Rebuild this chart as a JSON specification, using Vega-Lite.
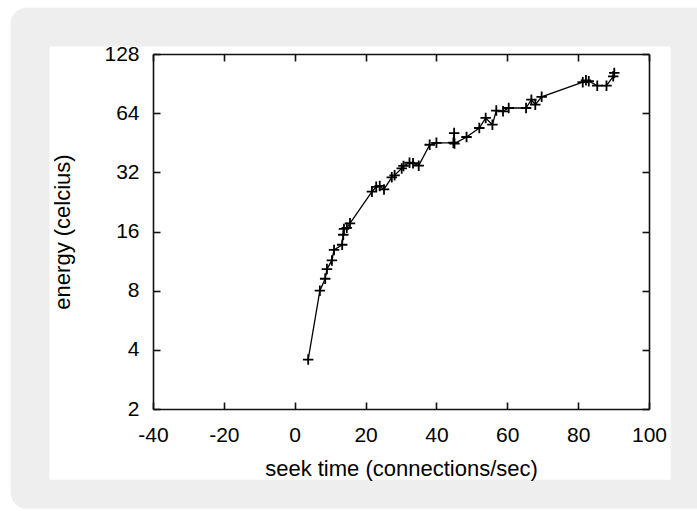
{
  "$schema": "https://vega.github.io/schema/vega-lite/v6.json",
  "width": 496,
  "height": 355,
  "autosize": {"type": "none"},
  "padding": {"left": 153, "top": 54, "right": 48, "bottom": 102},
  "background": "white",
  "config": {
    "view": {"stroke": null},
    "axis": {
      "grid": false,
      "domainColor": "#111111",
      "domainWidth": 1.6,
      "tickColor": "#111111",
      "tickWidth": 1.6,
      "tickSize": -7,
      "labelFont": "Liberation Sans",
      "labelFontSize": 21,
      "labelColor": "#000000",
      "labelFlush": false,
      "labelOverlap": false,
      "titleFont": "Liberation Sans",
      "titleFontSize": 22,
      "titleFontWeight": "normal",
      "titleColor": "#000000"
    }
  },
  "data": {
    "values": [
      {"seek": 3.8, "energy": 3.57},
      {"seek": 7.1, "energy": 8.0},
      {"seek": 8.6, "energy": 9.2},
      {"seek": 9.1, "energy": 10.3},
      {"seek": 10.5, "energy": 11.4},
      {"seek": 11.1, "energy": 12.9},
      {"seek": 13.4, "energy": 13.7},
      {"seek": 13.7, "energy": 15.4},
      {"seek": 13.9, "energy": 16.5},
      {"seek": 14.7, "energy": 16.7},
      {"seek": 15.6, "energy": 17.6},
      {"seek": 21.8, "energy": 25.5},
      {"seek": 23.0, "energy": 27.0},
      {"seek": 24.0, "energy": 27.3},
      {"seek": 25.2, "energy": 26.2},
      {"seek": 27.4, "energy": 30.2},
      {"seek": 28.2, "energy": 30.9},
      {"seek": 30.2, "energy": 33.5},
      {"seek": 30.7, "energy": 34.5},
      {"seek": 32.4, "energy": 35.8},
      {"seek": 33.4, "energy": 35.6},
      {"seek": 35.0, "energy": 34.6},
      {"seek": 38.1, "energy": 44.2},
      {"seek": 40.0, "energy": 45.2},
      {"seek": 44.8, "energy": 45.3},
      {"seek": 45.0, "energy": 50.7},
      {"seek": 45.1, "energy": 44.8},
      {"seek": 48.5, "energy": 48.4},
      {"seek": 52.1, "energy": 53.8},
      {"seek": 53.9, "energy": 60.5},
      {"seek": 55.8, "energy": 55.9},
      {"seek": 56.9, "energy": 66.0},
      {"seek": 58.8, "energy": 65.4},
      {"seek": 60.4, "energy": 68.0},
      {"seek": 65.3, "energy": 68.0},
      {"seek": 66.8, "energy": 75.0},
      {"seek": 67.9, "energy": 70.7},
      {"seek": 69.7, "energy": 77.5},
      {"seek": 81.3, "energy": 92.0},
      {"seek": 82.2, "energy": 94.0},
      {"seek": 83.0, "energy": 93.0},
      {"seek": 85.4, "energy": 88.3},
      {"seek": 88.0, "energy": 88.3},
      {"seek": 89.9, "energy": 98.5},
      {"seek": 90.2, "energy": 102.5}
    ]
  },
  "resolve": {"axis": {"x": "independent", "y": "independent"}},
  "layer": [
    {
      "data": {"values": [{}]},
      "mark": {"type": "rect", "color": "#eeeeee", "cornerRadius": 16},
      "encoding": {
        "x": {"datum": -80.2, "type": "quantitative", "scale": {"domain": [-40, 100], "nice": false, "zero": false}, "axis": null},
        "x2": {"datum": 119.9},
        "y": {"datum": 220.2, "type": "quantitative", "scale": {"type": "log", "base": 2, "domain": [2, 128], "nice": false}, "axis": null},
        "y2": {"datum": 0.622}
      }
    },
    {
      "data": {"values": [{}]},
      "mark": {"type": "rect", "color": "#ffffff"},
      "encoding": {
        "x": {"datum": -69.2, "type": "quantitative", "scale": {"domain": [-40, 100], "nice": false, "zero": false}, "axis": null},
        "x2": {"datum": 106.1},
        "y": {"datum": 139.9, "type": "quantitative", "scale": {"type": "log", "base": 2, "domain": [2, 128], "nice": false}, "axis": null},
        "y2": {"datum": 0.874}
      }
    },
    {
      "mark": {"type": "line", "color": "#000000", "strokeWidth": 1.3},
      "encoding": {
        "x": {
          "field": "seek", "type": "quantitative",
          "scale": {"domain": [-40, 100], "nice": false, "zero": false},
          "axis": {"orient": "bottom", "zindex": 1, "values": [-40, -20, 0, 20, 40, 60, 80, 100], "labelExpr": "'' + datum.value", "labelPadding": 22, "title": "seek time (connections/sec)", "titleBaseline": "alphabetic", "titleY": 66}
        },
        "y": {
          "field": "energy", "type": "quantitative",
          "scale": {"type": "log", "base": 2, "domain": [2, 128], "nice": false},
          "axis": {"orient": "left", "zindex": 1, "values": [2, 4, 8, 16, 32, 64, 128], "labelExpr": "'' + datum.value", "labelPadding": 21, "title": "energy (celcius)", "titleBaseline": "alphabetic", "titleX": -84}
        }
      }
    },
    {
      "mark": {"type": "point", "shape": "M-1,0H1M0,-1V1", "size": 110, "filled": false, "stroke": "#000000", "strokeWidth": 1.8, "opacity": 1},
      "encoding": {
        "x": {
          "field": "seek", "type": "quantitative",
          "scale": {"domain": [-40, 100], "nice": false, "zero": false},
          "axis": {"orient": "top", "zindex": 1, "values": [-40, -20, 0, 20, 40, 60, 80, 100], "labels": false, "title": null}
        },
        "y": {
          "field": "energy", "type": "quantitative",
          "scale": {"type": "log", "base": 2, "domain": [2, 128], "nice": false},
          "axis": {"orient": "right", "zindex": 1, "values": [2, 4, 8, 16, 32, 64, 128], "labels": false, "title": null}
        }
      }
    }
  ]
}
